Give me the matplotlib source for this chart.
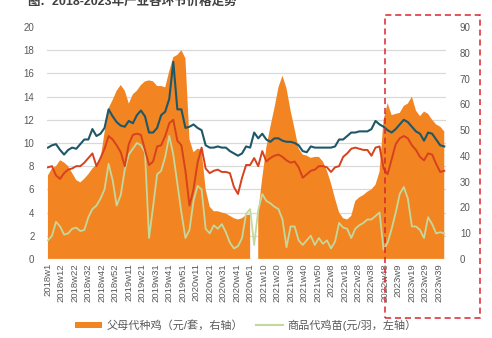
import matplotlib
matplotlib.use("Agg")
import matplotlib.pyplot as plt
import numpy as np
from matplotlib.patches import Rectangle, Patch
from matplotlib.lines import Line2D

plt.rcParams['font.family'] = ['Liberation Sans', 'Noto Sans CJK SC', 'DejaVu Sans']

# week index of each sample (one sample every 3 weeks)
week_idx = list(range(0, 295, 3))

# 父母代种鸡 (元/套, right axis)
parent_stock = [
    32.4, 35.1, 36.0, 38.3, 37.4, 36.0, 33.3, 30.6, 29.7, 31.1,
    32.9, 35.1, 36.5, 38.7, 49.1, 58.5, 61.7, 65.3, 67.5, 65.3,
    60.3, 63.9, 65.3, 67.5, 68.9, 69.3, 68.9, 67.1, 67.1, 66.6,
    72.9, 78.3, 79.2, 81.0, 77.9, 46.4, 41.4, 42.8, 42.3, 27.0,
    20.3, 18.5, 18.5, 18.0, 17.6, 16.7, 15.8, 15.3, 15.8, 17.1,
    17.1, np.nan, 18.0, 31.5, 43.2, 51.3, 58.5, 66.6, 71.1, 66.2,
    57.6, 50.4, 42.8, 40.5, 40.1, 39.2, 39.6, 39.6, 37.8, 34.2,
    29.3, 23.4, 18.0, 15.8, 15.3, 16.7, 22.5, 23.9, 24.8, 26.1,
    27.0, 28.8, 33.8, 54.0, 60.5, 55.8, 56.3, 56.7, 59.4, 60.3,
    63.0, 57.6, 55.4, 57.2, 56.3, 54.0, 52.2, 51.3, 49.5,
]

# 商品代鸡苗 (元/羽, left axis)
chick = [
    1.6, 2.0, 3.2, 2.8, 2.1, 2.2, 2.6, 2.7, 2.4, 2.5,
    3.6, 4.3, 4.6, 5.2, 6.0, 8.2, 6.8, 4.6, 5.5, 7.7,
    9.0, 9.5, 10.0, 9.8, 9.2, 1.8, 4.5, 7.3, 7.6, 8.8,
    10.6, 9.0, 6.5, 4.0, 1.8, 2.5, 5.0, 6.3, 6.0, 2.6,
    2.2, 2.9, 2.6, 3.0, 2.3, 1.4, 0.9, 1.1, 1.8, 3.9,
    4.3, 1.2, 4.2, 5.6, 5.0, 4.8, 4.5, 4.3, 3.4, 1.0,
    2.8, 2.8, 1.6, 1.2, 1.6, 2.0, 1.2, 1.8, 1.3, 1.6,
    0.9, 1.5, 3.1, 2.7, 2.6, 1.8, 2.6, 2.9, 3.1, 3.4,
    3.4, 3.7, 4.0, 0.8, 1.4, 2.6, 4.0, 5.6, 6.2, 5.2,
    2.8, 2.8, 2.5, 1.8, 3.6, 3.0, 2.2, 2.3, 2.2,
]

# dark teal series (left axis)
teal_series = [
    9.6, 9.8, 9.9, 9.4, 9.0, 9.4, 9.6, 9.5, 9.9, 10.3,
    10.3, 11.2, 10.6, 10.8, 11.3, 12.9, 12.3, 11.8, 11.5, 11.4,
    11.9, 11.7, 12.4, 12.8, 12.3, 10.9, 10.9, 11.3, 12.4, 12.7,
    13.8, 17.0, 12.9, 12.9, 11.3, 11.4, 11.6, 11.3, 11.1, 9.8,
    9.6, 9.6, 9.7, 9.6, 9.6, 9.3, 9.1, 8.9, 9.1, 9.7,
    9.6, 10.9, 10.4, 10.8, 10.3, 10.1, 10.4, 10.4, 10.2, 10.1,
    10.1, 10.0, 9.8, 9.3, 9.2, 9.7, 9.6, 9.6, 9.6, 9.6,
    9.6, 9.7, 10.3, 10.3, 10.6, 10.9, 10.9, 11.0, 11.0, 11.0,
    11.2, 11.9, 11.6, 11.4, 11.1, 10.9, 11.2, 11.6, 12.0, 11.8,
    11.4, 11.0, 10.8, 10.2, 10.9, 10.8, 10.3, 9.8, 9.7,
]

# red series (left axis)
red_series = [
    7.9, 8.0, 7.2, 6.9, 7.4, 7.7, 7.8, 8.0, 8.0, 8.3,
    8.7, 9.1, 8.0, 8.7, 9.5, 10.6, 10.3, 9.8, 9.2, 8.0,
    9.9, 10.7, 10.8, 10.7, 9.4, 8.1, 8.4, 9.7, 9.8, 10.6,
    11.7, 12.0, 10.2, 9.8, 7.6, 4.6, 6.0, 8.3, 9.6, 7.8,
    7.4, 7.6, 7.7, 7.5, 7.5, 7.4, 6.2, 5.6, 7.0, 8.1,
    8.1, 8.7, 8.0, 9.3, 8.4, 8.7, 8.9, 9.0, 8.8, 8.5,
    8.3, 8.4, 7.9, 7.0, 7.3, 7.6, 7.7, 8.0, 8.0, 7.9,
    7.5, 7.9, 8.0, 8.8, 9.1, 9.5, 9.6, 9.5, 9.4, 9.4,
    8.9, 9.6, 9.7, 7.8, 7.3, 8.6, 9.9, 10.4, 10.6, 10.4,
    9.8, 9.4, 8.8, 8.5, 9.1, 9.0, 8.2, 7.5, 7.6,
]

tick_labels = [
    "2018w1", "2018w12", "2018w22", "2018w32", "2018w42", "2018w52",
    "2019w11", "2019w21", "2019w31", "2019w41", "2019w51",
    "2020w11", "2020w21", "2020w31", "2020w41", "2020w51",
    "2021w10", "2021w20", "2021w30", "2021w40", "2021w50",
    "2022w8", "2022w18", "2022w28", "2022w38", "2022w48",
    "2023w9", "2023w19", "2023w29", "2023w39",
]

c_orange = "#F28522"
c_green = "#C3D89C"
c_teal = "#1E5767"
c_red = "#D7411E"
c_text = "#595959"
c_grid = "#D9D9D9"

fig = plt.figure(figsize=(4.92, 3.38), dpi=100)
ax = fig.add_axes([0.0955, 0.234, 0.811, 0.686])
ax2 = ax.twinx()

# orange area on the right axis, with the grid under it
ax2.fill_between(week_idx, 0, parent_stock, color=c_orange, linewidth=0)
ax2.set_ylim(0, 90)
ax2.set_yticks(np.arange(0, 91, 10))
ax2.set_yticks(np.arange(0, 91, 9), minor=True)
ax2.grid(which='minor', axis='y', color=c_grid, linewidth=0.9)
ax2.set_axisbelow(True)
ax2.tick_params(axis='y', which='both', length=0, pad=10, labelsize=7, labelcolor=c_text)

# lines on the left axis, drawn above the area
ax.set_zorder(ax2.get_zorder() + 1)
ax.patch.set_visible(False)
ax.plot(week_idx, chick, color=c_green, lw=1.3)
ax.plot(week_idx, red_series, color=c_red, lw=1.4)
ax.plot(week_idx, teal_series, color=c_teal, lw=1.5)
ax.set_ylim(0, 20)
ax.set_yticks(np.arange(0, 21, 2))
ax.set_xlim(-0.7, 295.3)
ax.set_xticks(np.arange(0, 291, 10))
ax.set_xticklabels(tick_labels, rotation=90)
ax.tick_params(axis='y', length=0, pad=9, labelsize=7, labelcolor=c_text)
ax.tick_params(axis='x', length=0, pad=3, labelsize=6.8, labelcolor=c_text)

for a in (ax, ax2):
    for s in a.spines.values():
        s.set_visible(False)

# title (cut off at the top like the source)
fig.text(0.055, 0.995, "图：2018-2023年产业各环节价格走势", fontsize=9, fontweight='bold',
         color="#404040", va='center', ha='left')

# legend
handles = [Patch(facecolor=c_orange, edgecolor='none'),
           Line2D([0], [0], color=c_green, lw=1.5)]
labels = ["父母代种鸡（元/套，右轴）", "商品代鸡苗(元/羽，左轴）"]
fig.legend(handles, labels, loc='center', bbox_to_anchor=(0.5, 0.038), ncol=2,
           frameon=False, fontsize=8, labelcolor=c_text, handlelength=2.4,
           handleheight=0.45, columnspacing=1.2, handletextpad=0.4)

# red dashed highlight box
fig.patches.append(Rectangle((0.783, 0.06), 0.193, 0.897, transform=fig.transFigure,
                             fill=False, edgecolor="#D9272E", linestyle=(0, (4, 2.5)),
                             linewidth=1.1))

fig.savefig("out.png", dpi=100)
